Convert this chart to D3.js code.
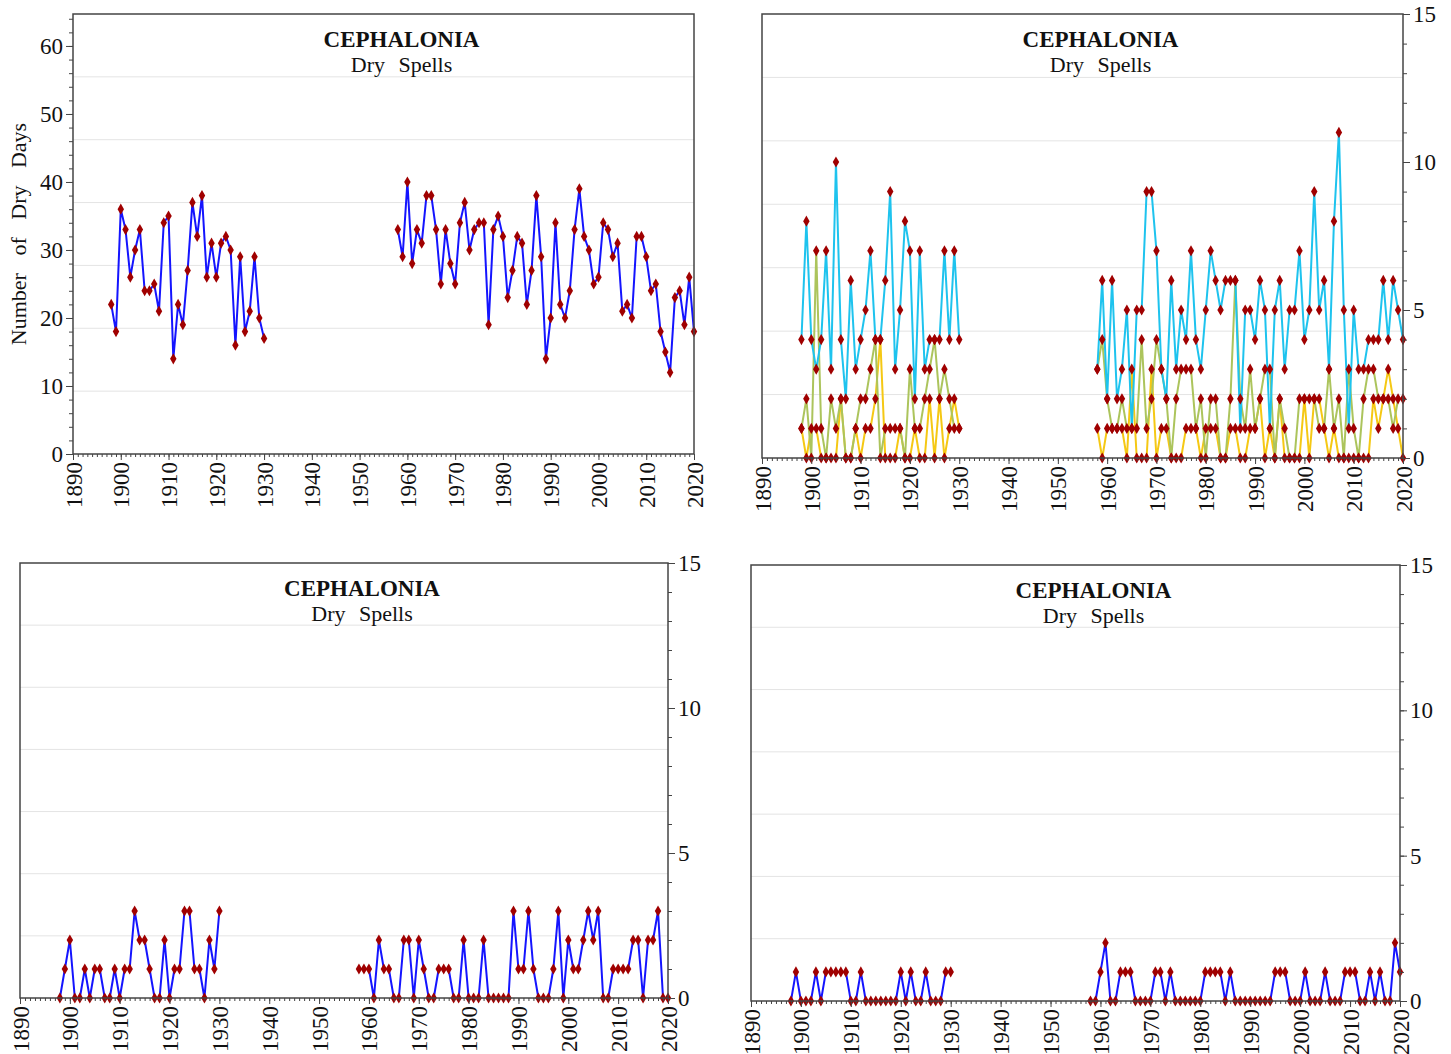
<!DOCTYPE html>
<html>
<head>
<meta charset="utf-8">
<title>Cephalonia Dry Spells</title>
<script src="https://d3js.org/d3.v7.min.js"></script>
<style>
  body { margin: 0; background: #fff; }
  svg text { font-family: "Liberation Serif", "Times New Roman", serif; fill: #111; }
</style>
</head>
<body>
<svg id="chart" width="1451" height="1054"></svg>
<script>
// years with records (gap 1931-1957)
var earlyYears = d3.range(1898, 1931);
var lateYears = d3.range(1958, 2021);
var xTicks = d3.range(1890, 2021, 10);

// top-left: number of dry days
var dryDaysEarly = [22,18,36,33,26,30,33,24,24,25,
                    21,34,35,14,22,19,27,37,32,38,
                    26,31,26,31,32,30,16,29,18,21,
                    29,20,17];
var dryDaysLate = [33,29,40,28,33,31,38,38,33,25,
                   33,28,25,34,37,30,33,34,34,19,
                   33,35,32,23,27,32,31,22,27,38,
                   29,14,20,34,22,20,24,33,39,32,
                   30,25,26,34,33,29,31,21,22,20,
                   32,32,29,24,25,18,15,12,23,24,
                   19,26,18];

// top-right: three spell classes
var cyanEarly = [4,8,4,3,4,7,3,10,4,2,
                 6,3,4,5,7,4,4,6,9,3,
                 5,8,7,2,7,3,4,4,4,7,
                 4,7,4];
var cyanLate = [3,6,2,6,2,3,5,1,5,5,
                9,9,7,3,2,6,3,5,4,7,
                4,3,5,7,6,5,6,6,6,1,
                5,5,4,6,5,1,5,6,3,5,
                5,7,4,5,9,5,6,3,8,11,
                5,1,5,3,3,4,4,4,6,4,
                6,5,4];
var oliveEarly = [1,2,0,7,1,0,2,1,2,0,
                  0,1,2,2,3,4,0,1,1,1,
                  1,0,3,1,1,2,3,4,2,3,
                  2,1,1];
var oliveLate = [3,4,2,1,1,2,1,1,1,4,
                 1,2,4,3,2,0,2,3,3,3,
                 1,2,0,2,2,0,0,2,6,2,
                 1,3,1,2,3,3,0,2,1,0,
                 0,2,2,2,2,1,1,3,1,2,
                 0,3,1,0,2,3,3,2,2,2,
                 1,2,2];
var yellowEarly = [1,0,1,1,0,0,0,0,2,0,
                   0,1,0,1,1,2,4,0,0,0,
                   1,0,0,1,0,0,2,0,2,0,
                   1,2,1];
var yellowLate = [1,0,1,1,1,1,0,3,0,0,
                  0,3,0,1,1,0,0,0,1,1,
                  1,0,1,1,1,0,0,1,1,0,
                  0,1,1,2,0,1,0,2,0,0,
                  0,0,2,0,2,2,1,0,1,0,
                  0,0,0,0,0,0,2,1,2,3,
                  2,1,0];

// bottom-left
var blEarly = [0,1,2,0,0,1,0,1,1,0,
               0,1,0,1,1,3,2,2,1,0,
               0,2,0,1,1,3,3,1,1,0,
               2,1,3];
var blLate = [1,1,1,0,2,1,1,0,0,2,
              2,0,2,1,0,0,1,1,1,0,
              0,2,0,0,0,2,0,0,0,0,
              0,3,1,1,3,1,0,0,0,1,
              3,0,2,1,1,2,3,2,3,0,
              0,1,1,1,1,2,2,0,2,2,
              3,0,0];

// bottom-right
var brEarly = [0,1,0,0,0,1,0,1,1,1,
               1,1,0,0,1,0,0,0,0,0,
               0,0,1,0,1,0,0,1,0,0,
               0,1,1];
var brLate = [0,0,1,2,0,0,1,1,1,0,
              0,0,0,1,1,0,1,0,0,0,
              0,0,0,1,1,1,1,0,1,0,
              0,0,0,0,0,0,0,1,1,1,
              0,0,0,1,0,0,0,1,0,0,
              0,1,1,1,0,0,1,0,1,0,
              0,2,1];

var svg = d3.select("#chart");
var markerColor = "#a00000";
var diamond = d3.symbol().type(d3.symbolDiamond).size(36);

function drawPanel(p) {
  var w = p.right - p.left, h = p.bottom - p.top;
  var g = svg.append("g").attr("transform", "translate(" + p.left + "," + p.top + ")");

  var x = d3.scaleLinear().domain([1890, 2020]).range([0, w]);
  var y = d3.scaleLinear().domain([0, p.yMax]).range([h, 0]);

  // light gridlines, 7 bands
  g.selectAll(".grid")
    .data(d3.range(1, 7))
    .enter().append("line")
    .attr("x1", 0).attr("x2", w)
    .attr("y1", function(k) { return h - k * h / 7; })
    .attr("y2", function(k) { return h - k * h / 7; })
    .attr("stroke", "#e4e4e4").attr("stroke-width", 1);

  var line = d3.line()
    .x(function(d) { return x(d[0]); })
    .y(function(d) { return y(d[1]); });

  p.series.forEach(function(s) {
    [[earlyYears, s.early], [lateYears, s.late]].forEach(function(seg) {
      var pts = seg[0].map(function(yr, i) { return [yr, seg[1][i]]; });
      g.append("path")
        .datum(pts)
        .attr("d", line)
        .attr("fill", "none")
        .attr("stroke", s.color)
        .attr("stroke-width", 2)
        .attr("stroke-linejoin", "round");
    });
  });

  p.series.forEach(function(s) {
    var pts = earlyYears.map(function(yr, i) { return [yr, s.early[i]]; })
      .concat(lateYears.map(function(yr, i) { return [yr, s.late[i]]; }));
    g.selectAll(null)
      .data(pts)
      .enter().append("path")
      .attr("d", diamond)
      .attr("transform", function(d) { return "translate(" + x(d[0]) + "," + y(d[1]) + ")"; })
      .attr("fill", markerColor);
  });

  // frame
  g.append("rect")
    .attr("width", w).attr("height", h)
    .attr("fill", "none").attr("stroke", "#444").attr("stroke-width", 1.5);

  // x axis: minor every year, labels every 10
  var xMinor = g.append("g").attr("transform", "translate(0," + h + ")")
    .call(d3.axisBottom(x).tickValues(d3.range(1890, 2021)).tickSize(3).tickFormat(""));
  xMinor.select(".domain").remove();
  var xMajor = g.append("g").attr("transform", "translate(0," + h + ")")
    .call(d3.axisBottom(x).tickValues(xTicks).tickSize(6).tickFormat(d3.format("d")));
  xMajor.select(".domain").remove();
  xMajor.selectAll("text")
    .attr("transform", "rotate(-90)")
    .attr("x", -8).attr("y", 0).attr("dy", "0.35em")
    .style("text-anchor", "end")
    .style("font-size", "23px");
  g.selectAll(".tick line").attr("stroke", "#444");

  // y axis
  var yAxisMinor, yAxisMajor, pos;
  if (p.side === "left") {
    yAxisMinor = d3.axisLeft(y); yAxisMajor = d3.axisLeft(y); pos = 0;
  } else {
    yAxisMinor = d3.axisRight(y); yAxisMajor = d3.axisRight(y); pos = w;
  }
  var ym = g.append("g").attr("transform", "translate(" + pos + ",0)")
    .call(yAxisMinor.tickValues(p.yMinor).tickSize(4).tickFormat(""));
  ym.select(".domain").remove();
  var yM = g.append("g").attr("transform", "translate(" + pos + ",0)")
    .call(yAxisMajor.tickValues(p.yTicks).tickSize(7).tickFormat(d3.format("d")));
  yM.select(".domain").remove();
  yM.selectAll("text").style("font-size", "23px");
  g.selectAll(".tick line").attr("stroke", "#444");

  // title
  var cx = w / 2 + 18;
  g.append("text").attr("x", cx).attr("y", 33)
    .attr("text-anchor", "middle")
    .style("font-size", "23px").style("font-weight", "bold")
    .text("CEPHALONIA");
  g.append("text").attr("x", cx).attr("y", 58)
    .attr("text-anchor", "middle")
    .style("font-size", "22px").style("word-spacing", "8px")
    .text("Dry Spells");

  if (p.yLabel) {
    svg.append("text")
      .attr("transform", "translate(26," + (p.top + h / 2) + ") rotate(-90)")
      .attr("text-anchor", "middle")
      .style("font-size", "22px").style("word-spacing", "12px")
      .text(p.yLabel);
  }
}

drawPanel({
  left: 73, right: 694, top: 14, bottom: 454, yMax: 64.7,
  yTicks: d3.range(0, 61, 10), yMinor: d3.range(0, 65, 2), side: "left",
  yLabel: "Number of Dry Days",
  series: [{ early: dryDaysEarly, late: dryDaysLate, color: "#1414ff" }]
});

drawPanel({
  left: 762, right: 1403, top: 14, bottom: 458, yMax: 15,
  yTicks: [0, 5, 10, 15], yMinor: d3.range(0, 16), side: "right",
  series: [
    { early: yellowEarly, late: yellowLate, color: "#f5c814" },
    { early: oliveEarly, late: oliveLate, color: "#acc45c" },
    { early: cyanEarly, late: cyanLate, color: "#1ec3ee" }
  ]
});

drawPanel({
  left: 20, right: 668, top: 563, bottom: 998, yMax: 15,
  yTicks: [0, 5, 10, 15], yMinor: d3.range(0, 16), side: "right",
  series: [{ early: blEarly, late: blLate, color: "#1414ff" }]
});

drawPanel({
  left: 751, right: 1400, top: 565, bottom: 1001, yMax: 15,
  yTicks: [0, 5, 10, 15], yMinor: d3.range(0, 16), side: "right",
  series: [{ early: brEarly, late: brLate, color: "#1414ff" }]
});
</script>
</body>
</html>
